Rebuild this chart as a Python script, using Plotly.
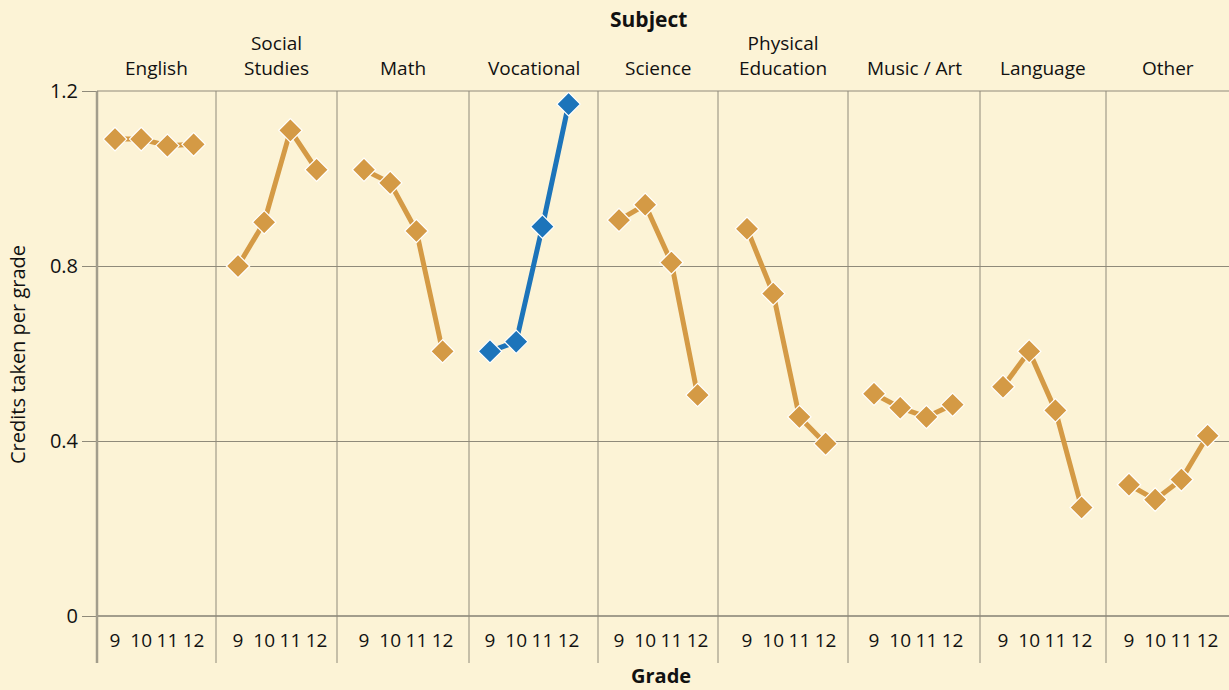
import plotly.graph_objects as go

subjects = ["English", "Social<br>Studies", "Math", "Vocational", "Science",
            "Physical<br>Education", "Music / Art", "Language", "Other"]
grades = [9, 10, 11, 12]
grade_labels = ["9", "10", "11", "12"]
english = [1.09, 1.09, 1.075, 1.078]
social_studies = [0.80, 0.90, 1.11, 1.02]
math = [1.02, 0.99, 0.88, 0.605]
vocational = [0.605, 0.627, 0.89, 1.17]
science = [0.905, 0.94, 0.808, 0.505]
physical_education = [0.885, 0.737, 0.455, 0.394]
music_art = [0.508, 0.476, 0.455, 0.483]
language = [0.524, 0.605, 0.47, 0.248]
other = [0.30, 0.266, 0.312, 0.412]
series = [english, social_studies, math, vocational, science,
          physical_education, music_art, language, other]
highlight = "Vocational"

# layout (pixels)
W, H = 1229, 690
L, R, T, B = 97, 0, 91, 74
bounds = [97, 216, 337, 469, 598, 718, 848, 980, 1106, 1229]
first_offsets = [18, 22, 27, 21, 21, 29, 26, 23, 23]
px_per_grade = 26.2
pw = W - L - R
ph = H - T - B

BG = "#FCF3D6"
ORANGE = "#D49A45"
BLUE = "#1C74BA"
GRID = "#8F8A7A"
FONT = "Open Sans"
INK = "#111111"

fig = go.Figure()
layout = {}
for i, (name, vals) in enumerate(zip(subjects, series)):
    ax = "" if i == 0 else str(i + 1)
    color = BLUE if name == highlight else ORANGE
    fig.add_trace(go.Scatter(
        x=grades, y=vals, xaxis="x" + ax, yaxis="y",
        mode="lines+markers",
        line=dict(color=color, width=5),
        marker=dict(symbol="diamond", size=18, color=color,
                    line=dict(color="white", width=1.2)),
        showlegend=False, hoverinfo="x+y"))
    x0, x1 = bounds[i], bounds[i + 1]
    off = first_offsets[i]
    lo = 9 - off / px_per_grade
    hi = 9 + (x1 - x0 - off) / px_per_grade
    layout["xaxis" + ax] = dict(
        domain=[(x0 - L) / pw, (x1 - L) / pw], range=[lo, hi],
        anchor="y", tickvals=grades, ticktext=grade_labels,
        showgrid=False, zeroline=False, showline=False,
        ticks="outside", ticklen=7, tickcolor="rgba(0,0,0,0)",
        tickfont=dict(family=FONT, size=19, color=INK),
        fixedrange=True)

fig.update_layout(**layout)
fig.update_layout(
    width=W, height=H,
    margin=dict(l=L, r=R, t=T, b=B),
    paper_bgcolor=BG, plot_bgcolor=BG,
    yaxis=dict(range=[0, 1.2], tickvals=[0, 0.4, 0.8, 1.2],
               ticktext=["0", "0.4", "0.8", "1.2"],
               showgrid=True, gridcolor=GRID, gridwidth=1,
               zeroline=True, zerolinecolor="#A29D8C", zerolinewidth=2,
               ticks="outside", ticklen=14, tickcolor=GRID,
               tickfont=dict(family=FONT, size=20, color=INK),
               showline=False, anchor="x", fixedrange=True),
    font=dict(family=FONT, color=INK),
)

shapes = []
# left axis line
shapes.append(dict(type="line", xref="paper", yref="paper",
                   x0=0, x1=0, y0=-47 / ph, y1=1,
                   line=dict(color="#A29D8C", width=2.5)))
for b in bounds[1:-1]:
    xp = (b - L) / pw
    shapes.append(dict(type="line", xref="paper", yref="paper",
                       x0=xp, x1=xp, y0=-47 / ph, y1=1,
                       line=dict(color=GRID, width=1)))
shapes.append(dict(type="line", xref="paper", yref="paper",
                   x0=0, x1=1, y0=1, y1=1,
                   line=dict(color=GRID, width=1.2)))
fig.update_layout(shapes=shapes)

ann = []
for i, name in enumerate(subjects):
    cx = ((bounds[i] + bounds[i + 1]) / 2 - L) / pw
    ann.append(dict(text=name, x=cx, y=1, xref="paper", yref="paper",
                    xanchor="center", yanchor="bottom", yshift=8,
                    showarrow=False,
                    font=dict(family=FONT, size=19, color=INK)))
ann.append(dict(text="<b>Subject</b>", x=(648 - L) / pw, y=1, xref="paper",
                yref="paper", xanchor="center", yanchor="middle",
                yshift=(T - 19), showarrow=False,
                font=dict(family=FONT, size=21, color=INK)))
ann.append(dict(text="<b>Grade</b>", x=(661 - L) / pw, y=0, xref="paper",
                yref="paper", xanchor="center", yanchor="middle",
                yshift=-(675 - (H - B)), showarrow=False,
                font=dict(family=FONT, size=20, color=INK)))
ann.append(dict(text="Credits taken per grade", x=(17 - L) / pw,
                y=(H - B - 355) / ph, xref="paper", yref="paper",
                xanchor="center", yanchor="middle", textangle=-90,
                showarrow=False,
                font=dict(family=FONT, size=20, color=INK)))
fig.update_layout(annotations=ann)

fig.write_html("out.html",
               config={"displayModeBar": False},
               post_script="document.body.style.margin='0';")
